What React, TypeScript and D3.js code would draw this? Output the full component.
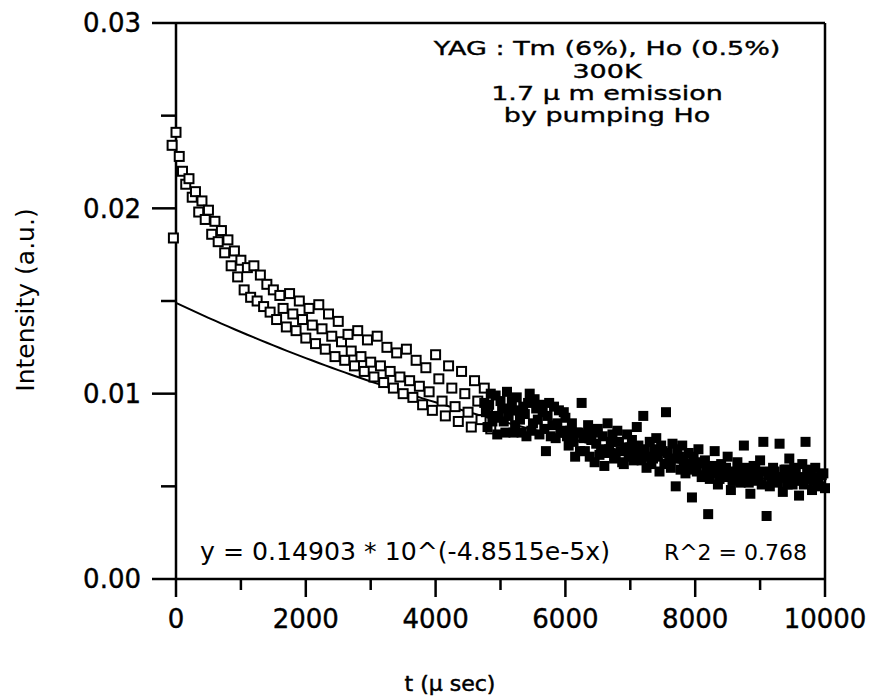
import React from "react";
import * as d3 from "d3";

// ---- data (t in µs, intensity in a.u.) ----
const openT: number[] = [
  -60, -40, 0, 50, 100, 150, 200, 250, 300, 350, 400, 450, 500, 550, 600, 650, 700, 750, 800, 850,
  900, 950, 1000, 1050, 1100, 1150, 1200, 1250, 1300, 1350, 1400, 1450, 1500, 1550, 1600, 1650, 1700, 1750, 1800, 1850,
  1900, 1950, 2000, 2050, 2100, 2150, 2200, 2250, 2300, 2350, 2400, 2450, 2500, 2550, 2600, 2650, 2700, 2750, 2800, 2850,
  2900, 2950, 3000, 3050, 3100, 3150, 3200, 3250, 3300, 3350, 3400, 3450, 3500, 3550, 3600, 3650, 3700, 3750, 3800, 3850,
  3900, 3950, 4000, 4050, 4100, 4150, 4200, 4250, 4300, 4350, 4400, 4450, 4500, 4550, 4600, 4650, 4700, 4750, 4800, 4850,
];
const openI: number[] = [
  0.0234, 0.0184, 0.0241, 0.0228, 0.0220, 0.0213, 0.0216, 0.0206, 0.0209, 0.0198, 0.0204, 0.0194, 0.0199, 0.0186, 0.0193, 0.0182, 0.0188, 0.0176, 0.0183, 0.0169,
  0.0177, 0.0163, 0.0172, 0.0156, 0.0168, 0.0152, 0.0169, 0.0150, 0.0164, 0.0147, 0.0159, 0.0144, 0.0156, 0.0140, 0.0153, 0.0146, 0.0136, 0.0154, 0.0143, 0.0134,
  0.0150, 0.0140, 0.0130, 0.0146, 0.0137, 0.0127, 0.0148, 0.0135, 0.0124, 0.0143, 0.0131, 0.0120, 0.0139, 0.0128, 0.0118, 0.0132, 0.0123, 0.0115, 0.0134, 0.0120,
  0.0112, 0.0129, 0.0117, 0.0109, 0.0131, 0.0115, 0.0106, 0.0125, 0.0112, 0.0103, 0.0122, 0.0109, 0.0100, 0.0124, 0.0107, 0.0098, 0.0118, 0.0104, 0.0094, 0.0114,
  0.0101, 0.0091, 0.0121, 0.0108, 0.0096, 0.0088, 0.0115, 0.0103, 0.0093, 0.0085, 0.0112, 0.0100, 0.0090, 0.0082, 0.0107, 0.0096, 0.0086, 0.0103, 0.0092, 0.0081,
];

const filledT: number[] = [
  4750, 4775, 4800, 4825, 4850, 4875, 4900, 4925, 4950, 4975, 5000, 5025, 5050, 5075, 5100, 5125, 5150, 5175, 5200, 5225,
  5250, 5275, 5300, 5325, 5350, 5375, 5400, 5425, 5450, 5475, 5500, 5525, 5550, 5575, 5600, 5625, 5650, 5675, 5700, 5725,
  5750, 5775, 5800, 5825, 5850, 5875, 5900, 5925, 5950, 5975, 6000, 6025, 6050, 6075, 6100, 6125, 6150, 6175, 6200, 6225,
  6250, 6275, 6300, 6325, 6350, 6375, 6400, 6425, 6450, 6475, 6500, 6525, 6550, 6575, 6600, 6625, 6650, 6675, 6700, 6725,
  6750, 6775, 6800, 6825, 6850, 6875, 6900, 6925, 6950, 6975, 7000, 7025, 7050, 7075, 7100, 7125, 7150, 7175, 7200, 7225,
  7250, 7275, 7300, 7325, 7350, 7375, 7400, 7425, 7450, 7475, 7500, 7525, 7550, 7575, 7600, 7625, 7650, 7675, 7700, 7725,
  7750, 7775, 7800, 7825, 7850, 7875, 7900, 7925, 7950, 7975, 8000, 8025, 8050, 8075, 8100, 8125, 8150, 8175, 8200, 8225,
  8250, 8275, 8300, 8325, 8350, 8375, 8400, 8425, 8450, 8475, 8500, 8525, 8550, 8575, 8600, 8625, 8650, 8675, 8700, 8725,
  8750, 8775, 8800, 8825, 8850, 8875, 8900, 8925, 8950, 8975, 9000, 9025, 9050, 9075, 9100, 9125, 9150, 9175, 9200, 9225,
  9250, 9275, 9300, 9325, 9350, 9375, 9400, 9425, 9450, 9475, 9500, 9525, 9550, 9575, 9600, 9625, 9650, 9675, 9700, 9725,
  9750, 9775, 9800, 9825, 9850, 9875, 9900, 9925, 9950, 9975, 10000,
];
const filledI: number[] = [
  0.0095, 0.0090, 0.0082, 0.0094, 0.0100, 0.0085, 0.0088, 0.0099, 0.0078, 0.0087, 0.0096, 0.0092, 0.0085, 0.0079, 0.0101, 0.0088, 0.0091, 0.0096, 0.0079, 0.0083,
  0.0098, 0.0091, 0.0086, 0.0079, 0.0093, 0.0089, 0.0077, 0.0095, 0.0100, 0.0080, 0.0084, 0.0097, 0.0092, 0.0086, 0.0078, 0.0094, 0.0090, 0.0081, 0.0069, 0.0088,
  0.0095, 0.0077, 0.0083, 0.0093, 0.0076, 0.0084, 0.0091, 0.0079, 0.0080, 0.0090, 0.0087, 0.0077, 0.0072, 0.0080, 0.0084, 0.0074, 0.0066, 0.0079, 0.0079, 0.0069,
  0.0095, 0.0076, 0.0069, 0.0078, 0.0083, 0.0066, 0.0075, 0.0079, 0.0063, 0.0073, 0.0081, 0.0067, 0.0070, 0.0077, 0.0061, 0.0068, 0.0084, 0.0070, 0.0074, 0.0078,
  0.0065, 0.0067, 0.0080, 0.0074, 0.0069, 0.0063, 0.0062, 0.0071, 0.0078, 0.0066, 0.0071, 0.0075, 0.0064, 0.0069, 0.0082, 0.0072, 0.0068, 0.0064, 0.0088, 0.0070,
  0.0060, 0.0066, 0.0074, 0.0062, 0.0065, 0.0070, 0.0076, 0.0066, 0.0058, 0.0072, 0.0069, 0.0062, 0.0090, 0.0068, 0.0063, 0.0060, 0.0073, 0.0065, 0.0050, 0.0070,
  0.0066, 0.0059, 0.0072, 0.0064, 0.0057, 0.0062, 0.0068, 0.0059, 0.0044, 0.0066, 0.0061, 0.0058, 0.0070, 0.0063, 0.0055, 0.0056, 0.0064, 0.0060, 0.0035, 0.0054,
  0.0059, 0.0061, 0.0069, 0.0057, 0.0051, 0.0054, 0.0062, 0.0059, 0.0055, 0.0060, 0.0066, 0.0056, 0.0048, 0.0053, 0.0058, 0.0057, 0.0063, 0.0059, 0.0052, 0.0055,
  0.0072, 0.0060, 0.0056, 0.0052, 0.0046, 0.0057, 0.0061, 0.0059, 0.0053, 0.0055, 0.0064, 0.0051, 0.0074, 0.0058, 0.0034, 0.0056, 0.0050, 0.0053, 0.0060, 0.0058,
  0.0054, 0.0052, 0.0073, 0.0055, 0.0047, 0.0059, 0.0059, 0.0051, 0.0065, 0.0056, 0.0051, 0.0060, 0.0057, 0.0053, 0.0045, 0.0055, 0.0062, 0.0051, 0.0074, 0.0057,
  0.0054, 0.0059, 0.0048, 0.0053, 0.0060, 0.0055, 0.0052, 0.0050, 0.0056, 0.0057, 0.0049,
];

// fit: y = A * 10^(B x)
const fitA = 0.014903;
const fitB = -4.8515e-5;

const xTicksMajor = [0, 2000, 4000, 6000, 8000, 10000];
const xTicksMinor = [1000, 3000, 5000, 7000, 9000];
const yTicksMajor = [0, 0.01, 0.02, 0.03];
const yTickLabels = ["0.00", "0.01", "0.02", "0.03"];
const yTicksMinor = [0.005, 0.015, 0.025];

const annotationLines = [
  "YAG : Tm (6%), Ho (0.5%)",
  "300K",
  "1.7 \u00b5 m emission",
  "by pumping Ho",
];
const equationText = "y = 0.14903 * 10^(-4.8515e-5x)";
const r2Text = "R^2 = 0.768";
const xTitle = "t (\u00b5 sec)";
const yTitle = "Intensity (a.u.)";

const W = 872;
const H = 700;
const FONT = "'DejaVu Sans', Verdana, sans-serif";

export default function App() {
  const x = d3.scaleLinear().domain([0, 10000]).range([176, 825]);
  const y = d3.scaleLinear().domain([0, 0.03]).range([579, 23]);
  const [x0, x1] = x.range();
  const [y0, y1] = y.range();

  const fitX = d3.range(0, 10001, 100);
  const fitLine = d3
    .line<number>()
    .x((t) => x(t))
    .y((t) => y(fitA * Math.pow(10, fitB * t)))(fitX) as string;

  const so = 9;
  const sf = 10;
  const annoBase = [55, 78, 100, 122];
  return (
    <svg width={W} height={H} style={{ display: "block", position: "absolute", left: 0, top: 0, background: "#fff" }}>
      <rect width={W} height={H} fill="#fff" />
      {/* frame */}
      <g stroke="#000" strokeWidth={2.5} fill="none">
        <line x1={x0} y1={y0} x2={x1} y2={y0} />
        <line x1={x0} y1={y1} x2={x1} y2={y1} />
        <line x1={x0} y1={y0} x2={x0} y2={y1} />
        <line x1={x1} y1={y0} x2={x1} y2={y1} />
        {xTicksMajor.map((t) => (
          <line key={"xM" + t} x1={x(t)} x2={x(t)} y1={y0} y2={y0 + 18} />
        ))}
        {xTicksMinor.map((t) => (
          <line key={"xm" + t} x1={x(t)} x2={x(t)} y1={y0} y2={y0 + 11} />
        ))}
        {yTicksMajor.map((v) => (
          <line key={"yM" + v} x1={x0 - 24} x2={x0} y1={y(v)} y2={y(v)} />
        ))}
        {yTicksMinor.map((v) => (
          <line key={"ym" + v} x1={x0 - 15} x2={x0} y1={y(v)} y2={y(v)} />
        ))}
      </g>
      {/* tick labels */}
      <g fontFamily={FONT} fontSize={26} fill="#000" stroke="#000" strokeWidth={0.4}>
        {xTicksMajor.map((t) => (
          <text key={"xl" + t} x={x(t)} y={628} textAnchor="middle">
            {String(t)}
          </text>
        ))}
        {yTicksMajor.map((v, i) => (
          <text key={"yl" + v} x={141} y={y(v)} dy="0.36em" textAnchor="end">
            {yTickLabels[i]}
          </text>
        ))}
      </g>
      {/* axis titles */}
      <text x={450} y={691} textAnchor="middle" fontFamily={FONT} fontSize={22} stroke="#000" strokeWidth={0.5}>
        {xTitle}
      </text>
      <text
        transform="translate(34,300) rotate(-90)"
        textAnchor="middle"
        fontFamily={FONT}
        fontSize={25}
      >
        {yTitle}
      </text>
      {/* fit line */}
      <path d={fitLine} fill="none" stroke="#000" strokeWidth={2} />
      {/* open squares */}
      <g fill="#fff" stroke="#000" strokeWidth={2}>
        {openT.map((t, i) => (
          <rect key={"o" + i} x={x(t) - so / 2} y={y(openI[i]) - so / 2} width={so} height={so} />
        ))}
      </g>
      {/* filled squares */}
      <g fill="#000">
        {filledT.map((t, i) => (
          <rect key={"f" + i} x={x(t) - sf / 2} y={y(filledI[i]) - sf / 2} width={sf} height={sf} />
        ))}
      </g>
      {/* annotation */}
      <g fontFamily={FONT} fontSize={19} textAnchor="middle" stroke="#000" strokeWidth={0.35}>
        {annotationLines.map((ln, i) => (
          <text key={"a" + i} transform={`translate(607,${annoBase[i]}) scale(1.42,1)`}>
            {ln}
          </text>
        ))}
      </g>
      <text x={200} y={560} fontFamily={FONT} fontSize={24} textLength={410} lengthAdjust="spacingAndGlyphs">
        {equationText}
      </text>
      <text x={807} y={560} fontFamily={FONT} fontSize={22} textAnchor="end">
        {r2Text}
      </text>
    </svg>
  );
}
